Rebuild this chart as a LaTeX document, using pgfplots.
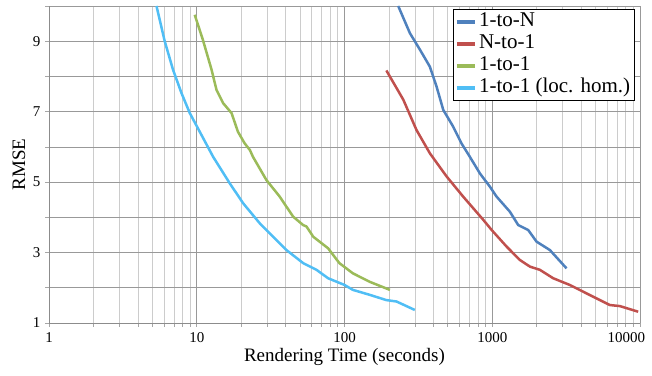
\documentclass[border=0pt]{standalone}
\usepackage{pgfplots}
\pgfplotsset{compat=1.18}
\usepackage{fontspec}
\setmainfont{Liberation Serif}
\definecolor{cblue}{RGB}{79,129,189}
\definecolor{cred}{RGB}{192,80,77}
\definecolor{cgreen}{RGB}{155,187,89}
\definecolor{clight}{RGB}{80,190,245}
\begin{document}
\begin{tikzpicture}
\begin{axis}[
  scale only axis,
  width=591pt, height=317pt,
  xmode=log, log basis x=10,
  xmin=1, xmax=10000, ymin=1, ymax=10,
  xtick={1,10,100,1000,10000},
  xticklabels={1,10,100,1000,\makebox[10pt][r]{10000}},
  minor xtick={2,3,4,5,6,7,8,9,20,30,40,50,60,70,80,90,200,300,400,500,600,700,800,900,2000,3000,4000,5000,6000,7000,8000,9000},
  ytick={1,3,5,7,9},
  minor ytick={2,4,6,8,10},
  grid=both,
  major grid style={draw=black!40, line width=0.7pt},
  minor x grid style={draw=black!20, line width=0.7pt},
  minor y grid style={draw=black!40, line width=0.7pt},
  axis line style={draw=black!45, line width=0.8pt},
  axis x line*=bottom, axis y line*=left,
  tick align=outside, tick pos=left,
  major tick length=4pt, minor tick length=4pt,
  tick style={draw=black!35, line width=0.7pt},
  /pgf/number format/assume math mode=true,
  ticklabel style={font=\rmfamily\fontsize{15}{17}\selectfont, text=black},
  xticklabel style={yshift=-2pt},
  yticklabel style={xshift=-1pt},
  xlabel={Rendering Time (seconds)},
  ylabel={RMSE},
  label style={font=\rmfamily\fontsize{19}{21}\selectfont},
  xlabel style={at={(axis description cs:0.5,-0.107)}, anchor=center},
  ylabel style={at={(axis description cs:-0.051,0.5)}, anchor=center, rotate=0},
  legend style={at={(rel axis cs:0.9915,0.9905)}, anchor=north east,
    draw=black, line width=0.8pt, fill=white,
    font=\rmfamily\fontsize{21}{23}\selectfont,
    row sep=0pt, inner xsep=2pt, inner ysep=1.5pt,
    nodes={inner xsep=2.5pt, inner ysep=0.5pt, text height=15.5pt, text depth=5.5pt},
    legend cell align=left},
  legend image code/.code={\draw[line width=3.5pt] (0pt,0pt) -- (18pt,0pt);},
  every axis plot/.append style={line width=2.5pt, line join=round},
  clip=true,
]
\addplot[cblue] coordinates {
(231,10) (277,9.23) (324,8.76) (378,8.28) (420,7.71) (466,7.05) (543,6.58)
(619,6.10) (705,5.72) (824,5.25) (964,4.87) (1069,4.59) (1316,4.16)
(1499,3.78) (1751,3.64) (1995,3.31) (2456,3.07) (3184,2.55)};
\addlegendentry{1-to-N}
\addplot[cred] coordinates {
(192,8.17) (250,7.34) (307,6.48) (378,5.82) (491,5.16) (635,4.59) (869,3.93)
(991,3.64) (1250,3.17) (1538,2.79) (1800,2.60) (2100,2.51) (2585,2.27)
(3350,2.08) (4350,1.84) (6250,1.51) (7310,1.48) (9720,1.32)};
\addlegendentry{N-to-1}
\addplot[cgreen] coordinates {
(9.69,9.75) (11.0,9.04) (12.6,8.19) (13.6,7.62) (15.1,7.24) (17.2,6.96)
(19.0,6.43) (21.1,6.10) (22.9,5.91) (24.0,5.72) (29.6,5.06) (36.4,4.59)
(44.9,4.02) (52.5,3.78) (55.3,3.74) (61.4,3.45) (77.5,3.12) (92.3,2.70)
(114,2.41) (148,2.17) (203,1.94)};
\addlegendentry{1-to-1}
\addplot[clight] coordinates {
(5.34,10) (6.07,9.0) (6.91,8.19) (7.88,7.53) (8.97,6.96) (10.48,6.43)
(12.9,5.72) (16.7,4.97) (20.6,4.40) (26.7,3.83) (32.9,3.45) (40.5,3.07)
(52.5,2.70) (64.6,2.51) (77.5,2.27) (100,2.08) (114,1.94) (148,1.80)
(192,1.65) (225,1.61) (299,1.37)};
\addlegendentry{1-to-1 (loc. hom.)}
\end{axis}
\pgfresetboundingbox
\path (current axis.south west) ++(-49pt,-53pt) coordinate (bbsw);
\path (current axis.north east) ++(12pt,6pt) coordinate (bbne);
\useasboundingbox (bbsw) rectangle (bbne);
\end{tikzpicture}
\end{document}
